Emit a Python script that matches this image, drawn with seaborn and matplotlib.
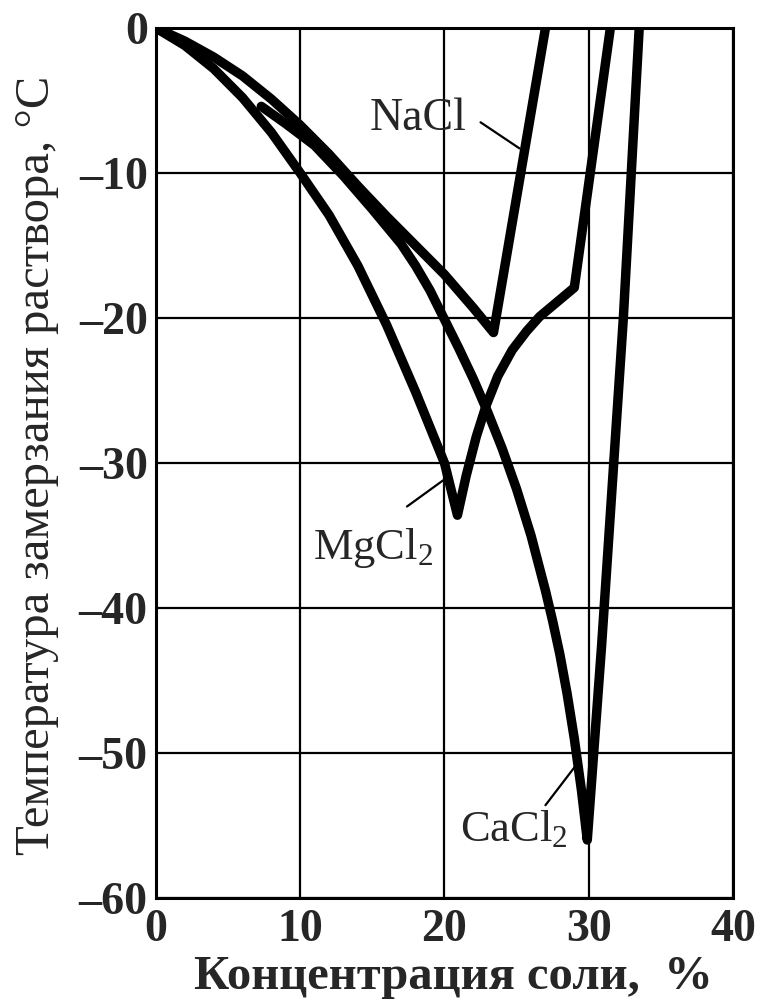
import matplotlib
matplotlib.use("Agg")
import matplotlib.pyplot as plt
import pandas as pd
import seaborn as sns

# freezing curves
nacl_conc = [0, 2, 4, 6, 8, 10, 12, 14, 16, 18, 20, 22, 23.4, 27.0]
nacl_temp = [0, -0.9, -2.0, -3.3, -4.9, -6.7, -8.7, -10.9, -13.0, -15.0, -17.0, -19.3, -21.0, 0]

mgcl2_conc = [0, 2, 4, 6, 8, 10, 12, 14, 16, 18, 20, 20.9,
              21.5, 22.2, 22.9, 23.7, 24.7, 25.7, 26.6, 27.8, 29.0, 31.5]
mgcl2_temp = [0, -1.2, -2.8, -4.8, -7.2, -10.0, -12.9, -16.4, -20.5, -25.1, -30.0, -33.6,
              -30.9, -28.2, -26.0, -24.0, -22.2, -20.9, -19.9, -18.9, -17.9, 0]

cacl2_conc = [7.3, 9, 11, 13, 15, 17, 18, 19, 19.9, 21, 22, 23, 24, 25, 26, 27, 27.5, 28,
              28.5, 29, 29.5, 29.9, 30.9, 32.4, 33.5]
cacl2_temp = [-5.4, -6.6, -8.1, -10.2, -12.5, -14.9, -16.4, -18.1, -19.9, -22.1, -24.2, -26.5,
              -29.0, -31.8, -35.0, -38.8, -40.9, -43.2, -45.9, -49.0, -52.6, -56.0,
              -42.5, -20.0, 0]

x_ticks = [0, 10, 20, 30, 40]
y_ticks = [0, -10, -20, -30, -40, -50, -60]
y_tick_labels = ["0", "\u201310", "\u201320", "\u201330", "\u201340", "\u201350", "\u201360"]

df = pd.concat([
    pd.DataFrame({"conc": nacl_conc, "temp": nacl_temp, "salt": "NaCl"}),
    pd.DataFrame({"conc": mgcl2_conc, "temp": mgcl2_temp, "salt": "MgCl2"}),
    pd.DataFrame({"conc": cacl2_conc, "temp": cacl2_temp, "salt": "CaCl2"}),
], ignore_index=True)

sns.set_theme(style="white")
plt.rcParams["font.family"] = ["Liberation Serif", "DejaVu Serif"]
plt.rcParams["mathtext.fontset"] = "custom"
plt.rcParams["mathtext.rm"] = "Liberation Serif"
plt.rcParams["mathtext.it"] = "Liberation Serif"

fig = plt.figure(figsize=(7.59, 10.02), dpi=100)
ax = fig.add_axes([0.2055, 0.1038, 0.7602, 0.8682])

sns.lineplot(
    data=df, x="conc", y="temp", hue="salt",
    palette={"NaCl": "black", "MgCl2": "black", "CaCl2": "black"},
    sort=False, estimator=None, legend=False, linewidth=6.8, ax=ax,
)
for ln in ax.get_lines():
    ln.set_solid_capstyle("round")
    ln.set_solid_joinstyle("round")
    ln.set_zorder(3)

ax.set_xlim(0, 40)
ax.set_ylim(-60, 0)
ax.set_xticks(x_ticks)
ax.set_xticklabels([str(t) for t in x_ticks], fontsize=33, fontweight="bold")
ax.set_yticks(y_ticks)
ax.set_yticklabels(y_tick_labels, fontsize=33, fontweight="bold")
ax.tick_params(axis="y", length=0, pad=6)
ax.tick_params(axis="x", length=0, pad=8)
ax.grid(True, color="black", linewidth=1.6)
for sp in ax.spines.values():
    sp.set_color("black")
    sp.set_linewidth(2.2)

ax.set_xlabel("Концентрация соли,  %", fontsize=35, fontweight="bold")
ax.xaxis.set_label_coords(0.515, -0.066)
ax.set_ylabel("Температура замерзания раствора, °С", fontsize=35)
ax.yaxis.set_label_coords(-0.168, 0.497)

# labels with leader lines
ax.text(14.8, -7.0, "NaCl", fontsize=33, ha="left", va="baseline")
ax.plot([22.5, 25.2], [-6.5, -8.3], color="black", lw=1.6)
ax.text(10.9, -36.6, "MgCl$_2$", fontsize=32, ha="left", va="baseline")
ax.plot([17.4, 19.9], [-33.0, -31.2], color="black", lw=1.6)
ax.text(21.1, -56.1, "CaCl$_2$", fontsize=32, ha="left", va="baseline")
ax.plot([27.0, 29.0], [-53.6, -51.0], color="black", lw=1.6)

fig.savefig("out.png", dpi=100)
